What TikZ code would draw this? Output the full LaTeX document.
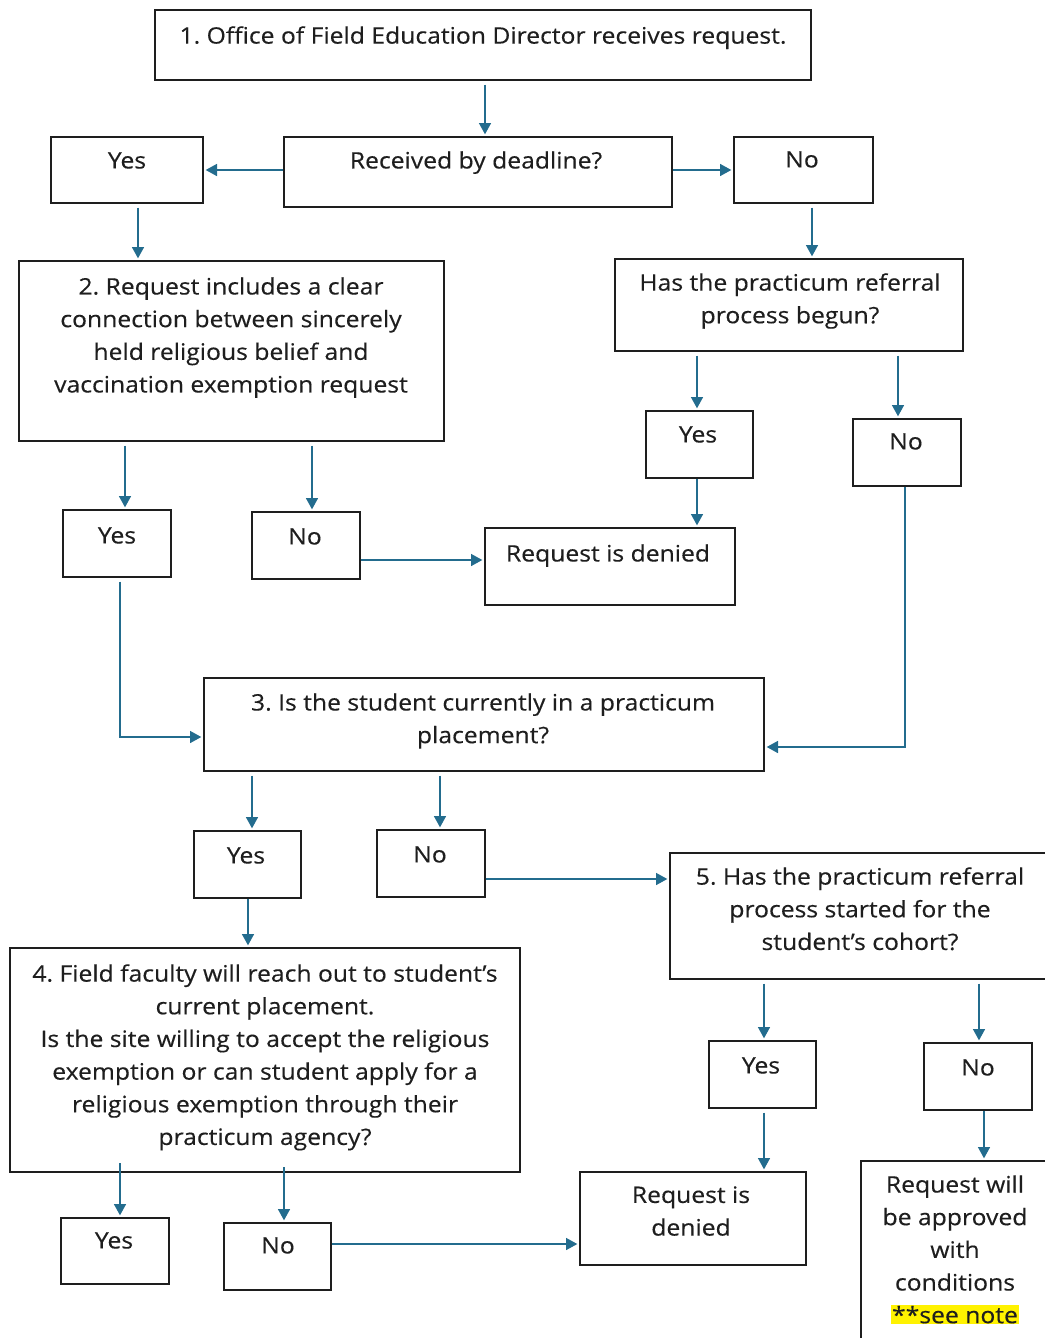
\documentclass[tikz,border=0pt]{standalone}
\usepackage{fontspec}
\setmainfont[FakeStretch=1.09,FakeBold=0.3]{Open Sans}
\frenchspacing
\usetikzlibrary{fit,arrows.meta}
\definecolor{flow}{HTML}{236C8E}
\definecolor{ink}{HTML}{1E1E1E}

\begin{document}
\begin{tikzpicture}[x=0.75pt,y=-0.75pt,
  box/.style={draw=ink,line width=1pt,inner sep=0pt},
  txt/.style={anchor=north,align=center,text=ink,inner sep=0pt,font=\fontsize{17}{24.5}\selectfont},
  arr/.style={draw=flow,line width=1.2pt,-{Triangle[width=9pt,length=8.5pt]},shorten <=3pt,shorten >=1.5pt}]
\useasboundingbox (0,0) rectangle (1045,1338);
\clip (0,0) rectangle (1045,1338);

% boxes
\node[box,fit={(155,10) (811,80)}] (b1) {};
\node[box,fit={(284,137) (672,207)}] (bdl) {};
\node[box,fit={(51,137) (203,203)}] (byes1) {};
\node[box,fit={(734,137) (873,203)}] (bno1) {};
\node[box,fit={(19,261) (444,441)}] (b2) {};
\node[box,fit={(615,259) (963,351)}] (bbeg) {};
\node[box,fit={(63,510) (171,577)}] (byes2) {};
\node[box,fit={(252,512) (360,579)}] (bno2) {};
\node[box,fit={(485,528) (735,605)}] (bden1) {};
\node[box,fit={(646,411) (753,478)}] (byes3) {};
\node[box,fit={(853,419) (961,486)}] (bno3) {};
\node[box,fit={(204,678) (764,771)}] (b3) {};
\node[box,fit={(194,831) (301,898)}] (byes4) {};
\node[box,fit={(377,830) (485,897)}] (bno4) {};
\node[box,fit={(670,853) (1060,979)}] (b5) {};
\node[box,fit={(10,948) (520,1172)}] (b4) {};
\node[box,fit={(709,1041) (816,1108)}] (byes5) {};
\node[box,fit={(924,1043) (1032,1110)}] (bno5) {};
\node[box,fit={(580,1172) (806,1265)}] (bden2) {};
\node[box,fit={(861,1161) (1060,1360)}] (bapp) {};
\node[box,fit={(61,1218) (169,1284)}] (byes6) {};
\node[box,fit={(224,1223) (331,1290)}] (bno6) {};

% texts
\node[txt] (t1) at (483,26) {1. Office of Field Education Director receives request.};
\node[txt] (tdl) at (476,151) {Received by deadline?};
\node[txt] (tyes1) at (127,152) {Yes};
\node[txt] (tno1) at (802,151) {No};
\node[txt] (t2) at (231,277) {2. Request includes a clear\\connection between sincerely\\held religious belief and\\vaccination exemption request};
\node[txt] (tbeg) at (790,273) {Has the practicum referral\\process begun?};
\node[txt] (tyes2) at (117,527) {Yes};
\node[txt] (tno2) at (305,528) {No};
\node[txt] (tden1) at (608,544) {Request is denied};
\node[txt] (tyes3) at (698,426) {Yes};
\node[txt] (tno3) at (906,433) {No};
\node[txt] (t3) at (483,693) {3. Is the student currently in a practicum\\placement?};
\node[txt] (tyes4) at (246,847) {Yes};
\node[txt] (tno4) at (430,846) {No};
\node[txt] (t5) at (860,867) {5. Has the practicum referral\\process started for the\\student’s cohort?};
\node[txt] (t4) at (265,964) {4. Field faculty will reach out to student’s\\current placement.\\Is the site willing to accept the religious\\exemption or can student apply for a\\religious exemption through their\\practicum agency?};
\node[txt] (tyes5) at (761,1057) {Yes};
\node[txt] (tno5) at (978,1059) {No};
\node[txt] (tden2) at (691,1186) {Request is\\denied};
\node[txt] (tapp) at (955,1175) {Request will\\be approved\\with\\conditions\\{\setlength{\fboxsep}{0.5pt}\colorbox{yellow}{**see note}}};
\node[txt] (tyes6) at (114,1232) {Yes};
\node[txt] (tno6) at (278,1237) {No};

% connectors
\draw[arr] (485,0 |- b1.south) -- (485,0 |- bdl.north);
\draw[arr,shorten <=0pt] (bdl.west |- 0,170) -- (byes1.east |- 0,170);
\draw[arr,shorten <=0pt] (bdl.east |- 0,170) -- (bno1.west |- 0,170);
\draw[arr] (138,0 |- byes1.south) -- (138,0 |- b2.north);
\draw[arr] (812,0 |- bno1.south) -- (812,0 |- bbeg.north);
\draw[arr] (125,0 |- b2.south) -- (125,0 |- byes2.north);
\draw[arr] (312,0 |- b2.south) -- (312,0 |- bno2.north);
\draw[arr,shorten <=0pt] (bno2.east |- 0,560) -- (bden1.west |- 0,560);
\draw[arr] (697,0 |- bbeg.south) -- (697,0 |- byes3.north);
\draw[arr] (898,0 |- bbeg.south) -- (898,0 |- bno3.north);
\draw[arr,shorten <=0pt] (697,0 |- byes3.south) -- (697,0 |- bden1.north);
\draw[arr] (120,0 |- byes2.south) |- (b3.west |- 0,737);
\draw[arr,shorten <=0pt] (905,0 |- bno3.south) |- (b3.east |- 0,747);
\draw[arr] (252,0 |- b3.south) -- (252,0 |- byes4.north);
\draw[arr] (440,0 |- b3.south) -- (440,0 |- bno4.north);
\draw[arr,shorten <=0pt] (bno4.east |- 0,879) -- (b5.west |- 0,879);
\draw[arr,shorten <=0pt] (248,0 |- byes4.south) -- (248,0 |- b4.north);
\draw[arr] (764,0 |- b5.south) -- (764,0 |- byes5.north);
\draw[arr] (979,0 |- b5.south) -- (979,0 |- bno5.north);
\draw[arr] (764,0 |- byes5.south) -- (764,0 |- bden2.north);
\draw[arr,shorten <=0pt] (984,0 |- bno5.south) -- (984,0 |- bapp.north);
\draw[arr,shorten <=-7pt] (120,0 |- b4.south) -- (120,0 |- byes6.north);
\draw[arr,shorten <=-4pt] (284,0 |- b4.south) -- (284,0 |- bno6.north);
\draw[arr,shorten <=0pt] (bno6.east |- 0,1244) -- (bden2.west |- 0,1244);
\end{tikzpicture}
\end{document}
